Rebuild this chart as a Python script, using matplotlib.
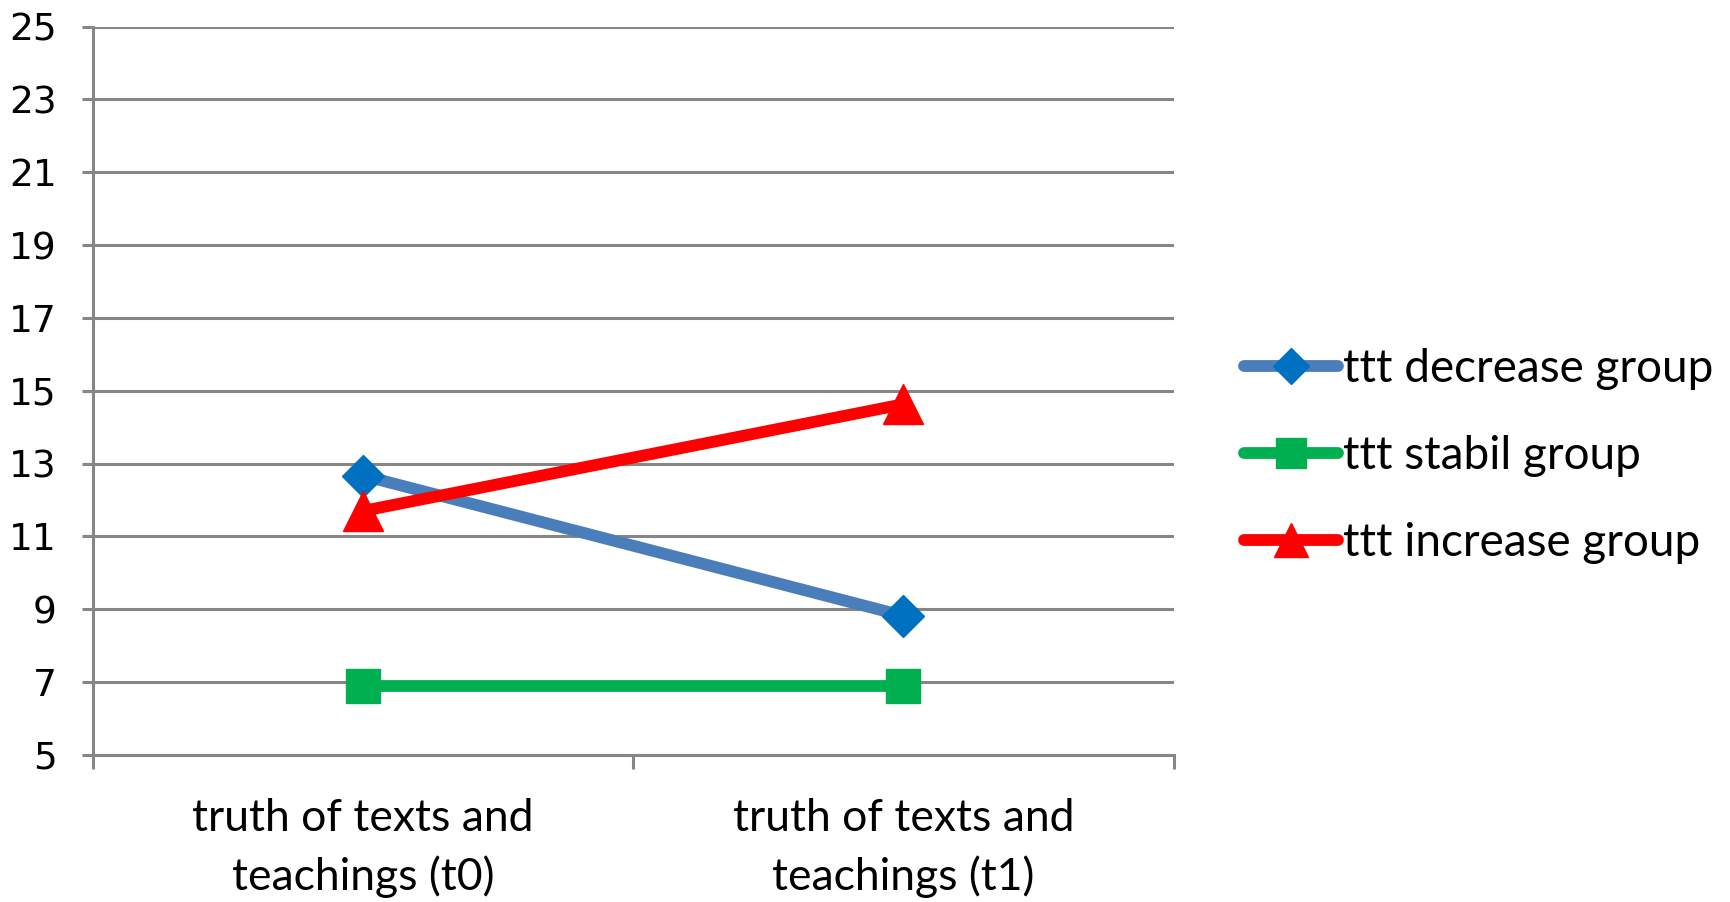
import matplotlib.pyplot as plt
import numpy as np

categories = ['truth of texts and\nteachings (t0)', 'truth of texts and\nteachings (t1)']
decrease = [12.67, 8.82]
stabil = [6.9, 6.9]
increase = [11.7, 14.63]
y_ticks = list(range(5, 26, 2))

grey = '#868686'

fig = plt.figure(figsize=(17.31, 9.02), dpi=100)
ax = fig.add_axes([0.0536, 0.163, 0.6244, 0.8076])

x = np.arange(len(categories))
ax.plot(x, decrease, color='#4A7EBB', lw=8.5, marker='D', ms=21, mfc='#0070C0', mec='#0070C0',
        label='ttt decrease group', zorder=3)
ax.plot(x, stabil, color='#00B050', lw=8.5, marker='s', ms=25, mfc='#00B050', mec='#00B050',
        label='ttt stabil group', zorder=3)
ax.plot(x, increase, color='#FF0000', lw=8.5, marker='^', ms=29, mfc='#FF0000', mec='#FF0000',
        label='ttt increase group', zorder=4)

ax.set_xlim(-0.5, 1.5)
ax.set_ylim(5, 25)
ax.set_yticks(y_ticks)
ax.set_yticklabels([str(v) for v in y_ticks], fontsize=27, family='DejaVu Sans')
ax.yaxis.grid(True, color=grey, lw=2.2)
ax.set_axisbelow(True)

ax.set_xticks([-0.5, 0.5, 1.5])
ax.set_xticklabels([])
ax.set_xticks(x, minor=True)
ax.set_xticklabels(categories, minor=True, fontsize=32, family='Lato', linespacing=1.48)
ax.tick_params(axis='x', which='minor', length=0, pad=31)
ax.tick_params(axis='x', which='major', length=10, width=2.2, color=grey, direction='out')
ax.tick_params(axis='y', length=8, width=2.2, color=grey, pad=18)

for s in ['top', 'right']:
    ax.spines[s].set_visible(False)
for s in ['left', 'bottom']:
    ax.spines[s].set_color(grey)
    ax.spines[s].set_linewidth(2.2)

leg = fig.legend(loc='center left', bbox_to_anchor=(0.7185, 0.4945), frameon=False,
                 prop={'family': 'Lato', 'size': 33}, handlelength=2.05,
                 handletextpad=0.12, labelspacing=0.975, borderpad=0, borderaxespad=0)
for h in leg.legend_handles:
    h.set_linewidth(8.5)
    h.set_solid_capstyle('round')
    h.set_markersize(h.get_markersize() * 0.85)

fig.savefig('out.png', dpi=100)
